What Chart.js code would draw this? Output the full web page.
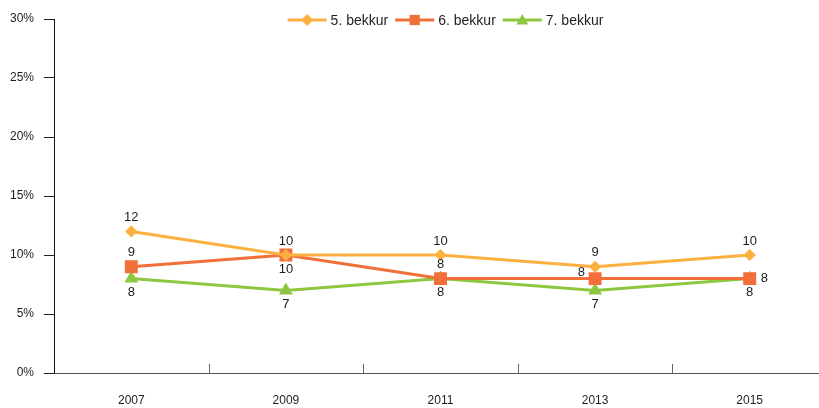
<!DOCTYPE html>
<html>
<head>
<meta charset="utf-8">
<script src="https://cdn.jsdelivr.net/npm/chart.js@4/dist/chart.umd.min.js"></script>
<style>
  html, body { margin: 0; padding: 0; background: #fff; overflow: hidden; }
  canvas { display: block; }
</style>
</head>
<body>
<canvas id="chart" width="837" height="408"></canvas>
<script>
// Data
const years = ['2007', '2009', '2011', '2013', '2015'];
const grade5 = [12, 10, 10, 9, 10];
const grade6 = [9, 10, 8, 8, 8];
const grade7 = [8, 7, 8, 7, 8];
const seriesNames = ['5. bekkur', '6. bekkur', '7. bekkur'];
// where each value label sits relative to its point
const labelPos5 = ['top', 'top', 'top', 'top', 'top'];
const labelPos6 = ['top', 'bottom', 'top', 'left', 'right'];
const labelPos7 = ['bottom', 'bottom', 'bottom', 'bottom', 'bottom'];

const FONT = '"Liberation Sans", Arial, sans-serif';
const TEXT = '#1e1e1e';

function drawMarker(ctx, style, x, y, r, color) {
    ctx.save();
    ctx.fillStyle = color;
    ctx.beginPath();
    if (style === 'rectRot') {
        ctx.moveTo(x, y - r); ctx.lineTo(x + r, y); ctx.lineTo(x, y + r); ctx.lineTo(x - r, y);
    } else if (style === 'rect') {
        ctx.rect(x - r * 0.85, y - r * 0.85, r * 1.7, r * 1.7);
    } else {
        ctx.moveTo(x, y - r); ctx.lineTo(x + r, y + r * 0.75); ctx.lineTo(x - r, y + r * 0.75);
    }
    ctx.closePath();
    ctx.fill();
    ctx.restore();
}

// legend drawn over the top of the plot, line + marker like the original
const lineLegend = {
    id: 'lineLegend',
    afterDraw(chart) {
        const ctx = chart.ctx;
        const area = chart.chartArea;
        ctx.save();
        ctx.font = '14px ' + FONT;
        const lineW = 39, gapTxt = 4, gapItem = 7;
        const items = chart.data.datasets.map(ds => ({
            ds, w: lineW + gapTxt + ctx.measureText(ds.label).width
        }));
        const total = items.reduce((s, it) => s + it.w, 0) + gapItem * (items.length - 1);
        let x = (area.left + area.right) / 2 + 5 - total / 2;
        const y = 20;
        items.forEach(it => {
            ctx.strokeStyle = it.ds.borderColor;
            ctx.lineWidth = 3;
            ctx.beginPath();
            ctx.moveTo(x, y); ctx.lineTo(x + lineW, y);
            ctx.stroke();
            drawMarker(ctx, it.ds.pointStyle, x + lineW / 2, y, 6, it.ds.borderColor);
            ctx.fillStyle = TEXT;
            ctx.textAlign = 'left';
            ctx.textBaseline = 'middle';
            ctx.fillText(it.ds.label, x + lineW + gapTxt, y + 1);
            x += it.w + gapItem;
        });
        ctx.restore();
    }
};

// value labels next to each point
const valueLabels = {
    id: 'valueLabels',
    afterDatasetsDraw(chart) {
        const ctx = chart.ctx;
        ctx.save();
        ctx.font = '13px ' + FONT;
        ctx.fillStyle = TEXT;
        chart.data.datasets.forEach((ds, di) => {
            const meta = chart.getDatasetMeta(di);
            meta.data.forEach((pt, i) => {
                const pos = ds.labelPos[i];
                let x = pt.x, y = pt.y;
                ctx.textAlign = 'center';
                ctx.textBaseline = 'middle';
                if (pos === 'top') y -= 14;
                else if (pos === 'bottom') y += 14;
                else if (pos === 'left') { x -= 10; y -= 6; ctx.textAlign = 'right'; }
                else if (pos === 'right') { x += 11; ctx.textAlign = 'left'; }
                ctx.fillText(String(ds.data[i]), x, y);
            });
        });
        ctx.restore();
    }
};

// small upward ticks between categories on the x axis
const xTicksUp = {
    id: 'xTicksUp',
    afterDraw(chart) {
        const sc = chart.scales.x;
        const ctx = chart.ctx;
        const n = years.length;
        const step = (sc.right - sc.left) / n;
        ctx.save();
        ctx.strokeStyle = '#666';
        ctx.lineWidth = 1;
        for (let i = 1; i < n; i++) {
            const x = Math.round(sc.left + i * step) + 0.5;
            ctx.beginPath();
            ctx.moveTo(x, sc.top);
            ctx.lineTo(x, sc.top - 9);
            ctx.stroke();
        }
        ctx.restore();
    }
};

new Chart(document.getElementById('chart'), {
    type: 'line',
    data: {
        labels: years,
        datasets: [
            {
                label: seriesNames[0],
                data: grade5,
                labelPos: labelPos5,
                borderColor: '#FBB040',
                backgroundColor: '#FBB040',
                pointStyle: 'rectRot',
                pointRadius: 4,
                borderWidth: 3
            },
            {
                label: seriesNames[1],
                data: grade6,
                labelPos: labelPos6,
                borderColor: '#F26F3A',
                backgroundColor: '#F26F3A',
                pointStyle: 'rect',
                pointRadius: 7,
                borderWidth: 3
            },
            {
                label: seriesNames[2],
                data: grade7,
                labelPos: labelPos7,
                borderColor: '#8DC63F',
                backgroundColor: '#8DC63F',
                pointStyle: 'triangle',
                pointRadius: 5,
                borderWidth: 3
            }
        ]
    },
    options: {
        responsive: false,
        animation: false,
        layout: { padding: { top: 19, left: 0, right: 0, bottom: 0 } },
        elements: { line: { tension: 0 }, point: { borderWidth: 0 } },
        plugins: {
            legend: { display: false },
            tooltip: { enabled: false }
        },
        scales: {
            x: {
                offset: true,
                grid: { display: false, drawTicks: false },
                border: { color: '#555', width: 1 },
                ticks: { color: TEXT, font: { family: FONT, size: 12 }, padding: 20 },
                afterFit: s => { s.height = 35; }
            },
            y: {
                min: 0,
                max: 30,
                grid: { drawOnChartArea: false, tickLength: 10, color: '#222' },
                border: { color: '#111', width: 1 },
                ticks: {
                    stepSize: 5,
                    color: TEXT,
                    padding: 10,
                    font: { family: FONT, size: 12 },
                    callback: v => v + '%'
                },
                afterFit: s => { s.width = 54; }
            }
        }
    },
    plugins: [lineLegend, valueLabels, xTicksUp]
});
</script>
</body>
</html>
